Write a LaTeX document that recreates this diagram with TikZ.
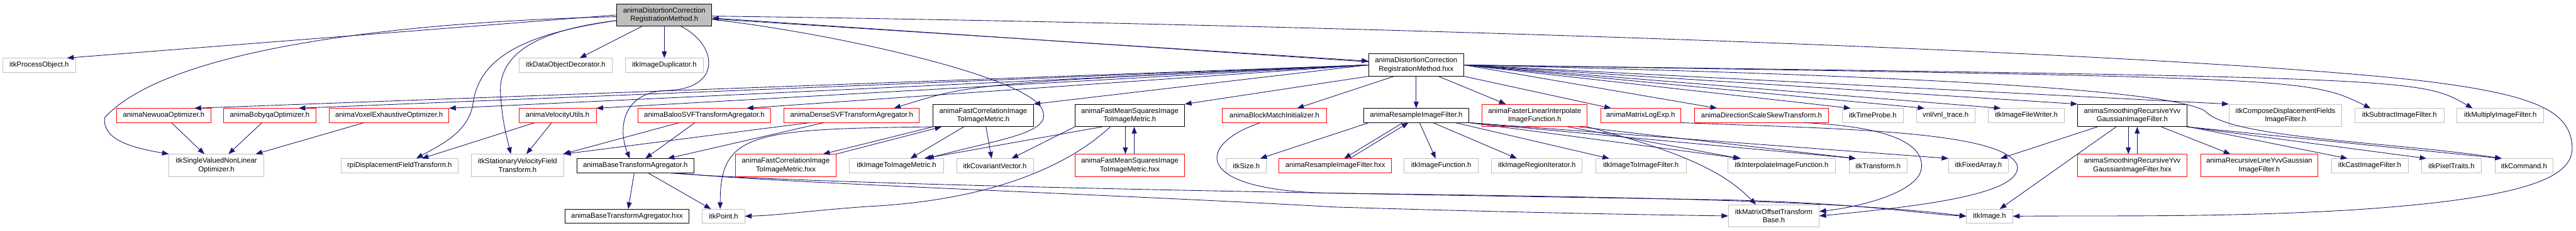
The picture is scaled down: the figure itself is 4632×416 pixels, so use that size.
\documentclass[tikz,border=0pt]{standalone}
\usepackage{fontspec}
\setmainfont{Liberation Sans}
\usepackage{tikz}
\usetikzlibrary{arrows.meta}
\definecolor{edgeblue}{HTML}{191970}
\definecolor{extgray}{HTML}{BFBFBF}
\tikzset{
  incg/.style={x=1pt, y=-1pt, >={Triangle[length=12pt,width=9pt]},
               every node/.style={draw, rectangle, line width=1pt, font=\fontsize{12.8}{15}\selectfont, align=center, inner sep=0pt, minimum height=25pt}},
  ext/.style={draw=extgray},
  trunc/.style={draw=red},
  cur/.style={fill=extgray},
  two/.style={minimum height=40pt},
  dep/.style={->, edgeblue, line width=1pt}
}

\begin{document}
\begin{tikzpicture}[incg]
\useasboundingbox (0,0) rectangle (4632,416);
\node[cur, two, minimum width=171pt] (r) at (1194.5,27) {animaDistortionCorrection\\RegistrationMethod.h};
\node[ext, minimum width=131pt] (po) at (70.5,117.5) {itkProcessObject.h};
\node[ext, minimum width=168pt] (dod) at (1017,117.5) {itkDataObjectDecorator.h};
\node[ext, minimum width=141pt] (idup) at (1194.5,117.5) {itkImageDuplicator.h};
\node[two, minimum width=171pt] (hxx) at (2546.5,117) {animaDistortionCorrection\\RegistrationMethod.hxx};
\node[trunc, minimum width=169pt] (newuoa) at (294.5,208) {animaNewuoaOptimizer.h};
\node[trunc, minimum width=166pt] (bobyqa) at (485,208) {animaBobyqaOptimizer.h};
\node[trunc, minimum width=215pt] (voxel) at (699.5,208) {animaVoxelExhaustiveOptimizer.h};
\node[trunc, minimum width=139pt] (velo) at (1002.5,208) {animaVelocityUtils.h};
\node[trunc, minimum width=239pt] (baloo) at (1266.5,208) {animaBalooSVFTransformAgregator.h};
\node[trunc, minimum width=243pt] (dense) at (1531.5,208) {animaDenseSVFTransformAgregator.h};
\node[two, minimum width=180pt] (fcorr) at (1768,208) {animaFastCorrelationImage\\ToImageMetric.h};
\node[two, minimum width=197pt] (fms) at (2031.5,208) {animaFastMeanSquaresImage\\ToImageMetric.h};
\node[trunc, minimum width=187pt] (bmi) at (2291.5,208) {animaBlockMatchInitializer.h};
\node[minimum width=189pt] (resample) at (2546.5,208) {animaResampleImageFilter.h};
\node[trunc, two, minimum width=189pt] (fli) at (2759.5,208) {animaFasterLinearInterpolate\\ImageFunction.h};
\node[trunc, minimum width=144pt] (mle) at (2950,208) {animaMatrixLogExp.h};
\node[trunc, minimum width=241pt] (dsst) at (3167.5,208) {animaDirectionScaleSkewTransform.h};
\node[ext, minimum width=109pt] (tprobe) at (3367.5,208) {itkTimeProbe.h};
\node[ext, minimum width=105pt] (vnl) at (3498.5,208) {vnl/vnl\_trace.h};
\node[ext, minimum width=137pt] (ifw) at (3643.5,208) {itkImageFileWriter.h};
\node[two, minimum width=196pt] (syvv) at (3834,208) {animaSmoothingRecursiveYvv\\GaussianImageFilter.h};
\node[ext, two, minimum width=203pt] (cdf) at (4109.5,208) {itkComposeDisplacementFields\\ImageFilter.h};
\node[ext, minimum width=161pt] (sub) at (4314.5,208) {itkSubtractImageFilter.h};
\node[ext, minimum width=156pt] (mul) at (4496,208) {itkMultiplyImageFilter.h};
\node[ext, two, minimum width=170pt] (svo) at (389,298) {itkSingleValuedNonLinear\\Optimizer.h};
\node[ext, minimum width=211pt] (rpi) at (718.5,298.5) {rpiDisplacementFieldTransform.h};
\node[ext, two, minimum width=167pt] (svf) at (930.5,298) {itkStationaryVelocityField\\Transform.h};
\node[minimum width=211pt] (bta) at (1142.5,298.5) {animaBaseTransformAgregator.h};
\node[trunc, two, minimum width=180pt] (fcorrx) at (1413,298) {animaFastCorrelationImage\\ToImageMetric.hxx};
\node[ext, minimum width=170pt] (iim) at (1612,298.5) {itkImageToImageMetric.h};
\node[ext, minimum width=138pt] (icv) at (1789,298.5) {itkCovariantVector.h};
\node[trunc, two, minimum width=197pt] (fmsx) at (2031.5,298) {animaFastMeanSquaresImage\\ToImageMetric.hxx};
\node[ext, minimum width=72pt] (size) at (2241,298.5) {itkSize.h};
\node[trunc, minimum width=202pt] (resx) at (2401,298.5) {animaResampleImageFilter.hxx};
\node[ext, minimum width=133pt] (ifunc) at (2591.5,298.5) {itkImageFunction.h};
\node[ext, minimum width=163pt] (rit) at (2763.5,298.5) {itkImageRegionIterator.h};
\node[ext, minimum width=163pt] (i2if) at (2950.5,298.5) {itkImageToImageFilter.h};
\node[ext, minimum width=193pt] (interp) at (3203.5,298.5) {itkInterpolateImageFunction.h};
\node[ext, minimum width=104pt] (trf) at (3377,298.5) {itkTransform.h};
\node[ext, minimum width=107pt] (farr) at (3557.5,298.5) {itkFixedArray.h};
\node[trunc, two, minimum width=196pt] (syvvx) at (3834,298) {animaSmoothingRecursiveYvv\\GaussianImageFilter.hxx};
\node[trunc, two, minimum width=211pt] (rline) at (4062.5,298) {animaRecursiveLineYvvGaussian\\ImageFilter.h};
\node[ext, minimum width=138pt] (cast) at (4261,298.5) {itkCastImageFilter.h};
\node[ext, minimum width=108pt] (ptr) at (4408,298.5) {itkPixelTraits.h};
\node[ext, minimum width=105pt] (cmd) at (4538.5,298.5) {itkCommand.h};
\node[minimum width=223pt] (btax) at (1127.5,389.5) {animaBaseTransformAgregator.hxx};
\node[ext, minimum width=76pt] (pt) at (1301,389.5) {itkPoint.h};
\node[ext, two, minimum width=163pt] (motb) at (3189.5,389) {itkMatrixOffsetTransform\\Base.h};
\node[ext, minimum width=83pt] (img) at (3577.5,389.5) {itkImage.h};
\draw[dep] (r.west) -- ([xshift=50pt]po.north);
\draw[dep] ([yshift=-3pt]r.west) .. controls (700,40) and (300,90) .. (188,212) .. controls (185,250) and (230,265) .. (svo.north west);
\draw[dep] (r) -- (dod);
\draw[dep] (r) -- (idup);
\draw[dep] ([yshift=-10pt]r.west) .. controls (950,60) and (860,100) .. (850,190) .. controls (840,240) and (790,262) .. ([xshift=30pt]rpi.north);
\draw[dep] ([yshift=-10pt]r.west) .. controls (960,55) and (895,100) .. (900,170) .. controls (903,220) and (912,250) .. ([xshift=-12pt]svf.north);
\draw[dep] ([xshift=30pt]r.south) .. controls (1290,80) and (1300,160) .. (1200,163) .. controls (1120,165) and (1110,230) .. ([xshift=-10pt]bta.north);
\draw[dep] ([yshift=-7pt]r.east) -- ([yshift=7pt]hxx.west);
\draw[dep] ([yshift=5.5pt]hxx.west) -- ([yshift=-5.5pt]r.east);
\draw[dep] ([yshift=-8pt]r.east) .. controls (1500,60) and (1860,140) .. (1875,200) .. controls (1890,240) and (1800,250) .. ([xshift=55pt]iim.north);
\draw[dep] ([yshift=-2pt]r.east) .. controls (2500,45) and (3900,95) .. (4350,145) .. controls (4560,170) and (4620,200) .. (4625,262) .. controls (4628,310) and (4580,355) .. (4232,378) .. controls (4000,392) and (3800,388) .. (img.east);
\draw[dep] (hxx.west) -- ([xshift=55pt]newuoa.north);
\draw[dep] (hxx.west) -- ([xshift=52pt]bobyqa.north);
\draw[dep] (hxx.west) -- (voxel.north east);
\draw[dep] (hxx.west) -- (velo.north east);
\draw[dep] (hxx.west) -- ([xshift=76pt]baloo.north);
\draw[dep] (hxx.west) .. controls (1750,150) .. ([xshift=76pt]dense.north);
\draw[dep] (hxx.west) -- (fcorr.north east);
\draw[dep] (hxx.south west) -- (fms.north east);
\draw[dep] ([xshift=-40pt]hxx.south) -- ([xshift=41pt]bmi.north);
\draw[dep] (hxx) -- (resample);
\draw[dep] ([xshift=40pt]hxx.south) -- ([xshift=-52pt]fli.north);
\draw[dep] (hxx.south east) -- ([xshift=-53pt]mle.north);
\draw[dep] (hxx.east) -- ([xshift=-80pt]dsst.north);
\draw[dep] (hxx.east) -- ([xshift=-40pt]tprobe.north);
\draw[dep] (hxx.east) -- ([xshift=-38pt]vnl.north);
\draw[dep] (hxx.east) -- ([xshift=-46pt]ifw.north);
\draw[dep] (hxx.east) -- (syvv.north west);
\draw[dep] (hxx.east) -- (cdf.north west);
\draw[dep] (hxx.east) .. controls (4150,140) .. ([xshift=-52pt]sub.north);
\draw[dep] (hxx.east) .. controls (4350,140) .. ([xshift=-50pt]mul.north);
\draw[dep] (hxx.east) .. controls (3400,135) and (3900,160) .. (3965,200) .. controls (4010,250) and (4300,255) .. ([xshift=-40pt]cmd.north);
\draw[dep] (newuoa) -- (svo);
\draw[dep] (bobyqa) -- (svo);
\draw[dep] (voxel) -- (svo);
\draw[dep] (velo) -- ([xshift=40pt]rpi.north);
\draw[dep] (velo) -- ([xshift=16pt]svf.north);
\draw[dep] ([xshift=-45pt]baloo.south) -- ([xshift=82pt]svf.north);
\draw[dep] ([xshift=-17pt]baloo.south) -- ([xshift=18pt]bta.north);
\draw[dep] ([xshift=-75pt]dense.south) -- (svf.north east);
\draw[dep] ([xshift=-50pt]dense.south) -- ([xshift=58pt]bta.north);
\draw[dep] ([xshift=-35pt]fcorr.south) -- ([xshift=25pt]iim.north);
\draw[dep] ([xshift=5pt]fcorr.south) -- ([xshift=-6pt]icv.north);
\draw[dep] (fcorr.south west) -- ([xshift=67pt]fcorrx.north);
\draw[dep] (fcorrx.north east) -- ([xshift=-75pt]fcorr.south);
\draw[dep] (fcorr.south west) .. controls (1350,232) and (1295,240) .. ([xshift=-6pt]pt.north);
\draw[dep] ([xshift=-8pt]fms.south) -- ([xshift=-8pt]fmsx.north);
\draw[dep] ([xshift=8pt]fmsx.north) -- ([xshift=8pt]fms.south);
\draw[dep] ([xshift=-50pt]fms.south) -- ([xshift=50pt]iim.north);
\draw[dep] (fms.south west) -- ([xshift=30pt]icv.north);
\draw[dep] ([xshift=-35pt]fms.south) .. controls (1930,290) and (1800,360) .. (1560,372) .. controls (1450,380) and (1400,388) .. (pt.east);
\draw[dep] ([xshift=-25pt]bmi.south) .. controls (2150,260) and (2140,345) .. (2400,348) .. controls (2900,355) and (3300,360) .. (img.west);
\draw[dep] (bta) -- (btax);
\draw[dep] (bta) -- (pt);
\draw[dep] ([xshift=70pt]bta.south) .. controls (1400,330) and (2000,350) .. (2400,373) .. controls (2700,382) and (2900,386) .. (motb.west);
\draw[dep] ([xshift=60pt]bta.south) .. controls (1500,335) and (2500,350) .. (3100,360) .. controls (3350,366) and (3450,385) .. (img.west);
\draw[dep] ([xshift=-24pt]resample.south) -- ([xshift=16pt]resx.north);
\draw[dep] ([xshift=26pt]resx.north) -- ([xshift=-14pt]resample.south);
\draw[dep] ([xshift=-85pt]resample.south) -- ([xshift=25pt]size.north);
\draw[dep] ([xshift=6pt]resample.south) -- ([xshift=-10pt]ifunc.north);
\draw[dep] ([xshift=30pt]resample.south) -- ([xshift=-36pt]rit.north);
\draw[dep] ([xshift=70pt]resample.south) -- ([xshift=-57pt]i2if.north);
\draw[dep] (resample.south east) -- ([xshift=-73pt]interp.north);
\draw[dep] (resample.south east) -- ([xshift=-40pt]trf.north);
\draw[dep] (resample.south east) -- (farr.north west);
\draw[dep] ([xshift=60pt]fli.south) -- ([xshift=-75pt]interp.north);
\draw[dep] ([xshift=80pt]fli.south) -- ([xshift=-40pt]trf.north);
\draw[dep] (fli.south east) .. controls (3050,280) and (3110,320) .. ([xshift=-32pt]motb.north);
\draw[dep] (mle.south east) .. controls (3300,232) and (3600,235) .. (3627,297) .. controls (3640,350) and (3450,372) .. (motb.east);
\draw[dep] ([xshift=75pt]dsst.south) .. controls (3400,228) and (3460,260) .. (3455,303) .. controls (3450,345) and (3350,372) .. ([yshift=8pt]motb.east);
\draw[dep] ([xshift=-7pt]syvv.south) -- ([xshift=-7pt]syvvx.north);
\draw[dep] ([xshift=9pt]syvvx.north) -- ([xshift=9pt]syvv.south);
\draw[dep] (syvv) -- (farr);
\draw[dep] (syvv) -- (img);
\draw[dep] (syvv) -- (rline);
\draw[dep] (syvv) -- ([xshift=-40pt]cast.north);
\draw[dep] (syvv.south east) -- ([xshift=-45pt]ptr.north);
\draw[dep] (syvv.south east) -- ([xshift=-40pt]cmd.north);
\end{tikzpicture}
\end{document}
